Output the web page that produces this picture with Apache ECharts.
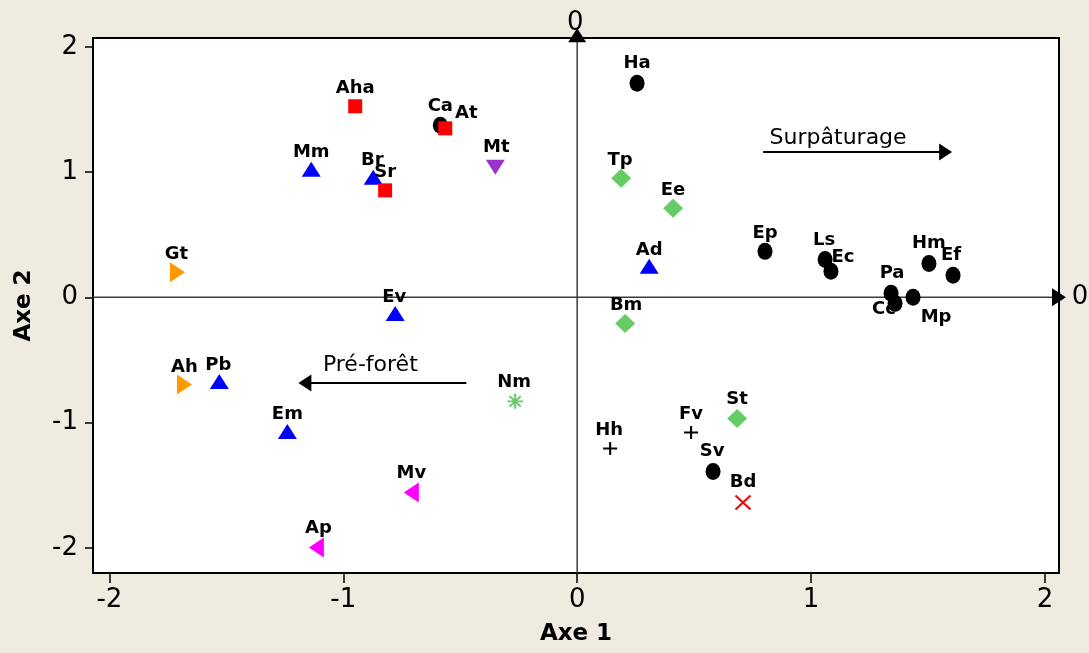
<!DOCTYPE html>
<html><head><meta charset="utf-8">
<script src="https://cdn.jsdelivr.net/npm/echarts@6/dist/echarts.min.js"></script>
<style>html,body{margin:0;padding:0;background:#efebe1;}#c{width:1089px;height:653px;}</style>
</head><body><div id="c"></div>
<script>
// ---------------- data ----------------
const xTicks = [-2, -1, 0, 1, 2];
const yTicks = [-2, -1, 0, 1, 2];
const xTitle = 'Axe 1';
const yTitle = 'Axe 2';

const circleNames = ['Ha', 'Ca', 'Ep', 'Ls', 'Ec', 'Pa', 'Cc', 'Mp', 'Hm', 'Ef', 'Sv'];
const circlePts = [[0.256, 1.709], [-0.585, 1.373], [0.803, 0.367], [1.060, 0.303], [1.085, 0.208],
  [1.342, 0.032], [1.359, -0.048], [1.436, 0.000], [1.504, 0.271], [1.607, 0.176], [0.581, -1.389]];

const triUpNames = ['Mm', 'Br', 'Ad', 'Ev', 'Pb', 'Em'];
const triUpPts = [[-1.137, 1.022], [-0.872, 0.958], [0.308, 0.248], [-0.778, -0.128], [-1.530, -0.671], [-1.239, -1.070]];

const squareNames = ['Aha', 'At', 'Sr'];
const squarePts = [[-0.949, 1.525], [-0.564, 1.349], [-0.821, 0.854]];

const triDownNames = ['Mt'];
const triDownPts = [[-0.350, 1.038]];

const diamondNames = ['Tp', 'Ee', 'Bm', 'St'];
const diamondPts = [[0.188, 0.950], [0.410, 0.711], [0.205, -0.208], [0.684, -0.966]];

const triRightNames = ['Gt', 'Ah'];
const triRightPts = [[-1.709, 0.200], [-1.679, -0.695]];

const triLeftNames = ['Mv', 'Ap'];
const triLeftPts = [[-0.709, -1.557], [-1.115, -1.996]];

const plusNames = ['Hh', 'Fv'];
const plusPts = [[0.141, -1.206], [0.487, -1.078]];

const starNames = ['Nm'];
const starPts = [[-0.265, -0.830]];

const crossNames = ['Bd'];
const crossPts = [[0.709, -1.637]];

// zero axes (x1, y1, x2, y2) and their end labels
const zeroAxes = [[-2.07, 0, 2.09, 0], [0, -2.2, 0, 2.148]];
const zeroAxisLabels = ['0', '0'];

// trend arrows (from -> to) and their captions
const trendArrows = [[0.795, 1.160, 1.603, 1.160], [-0.474, -0.684, -1.192, -0.684]];
const trendLabels = ['Surpâturage', 'Pré-forêt'];

// ---------------- styling ----------------
const labelOffsets = {
  Aha: [0, -18], Ca: [0, -19], At: [21, -15], Mm: [0, -17], Br: [-1, -17], Sr: [0, -18], Mt: [1, -20],
  Ha: [0, -20], Tp: [-1, -18], Ee: [0, -18], Ep: [0, -18], Ls: [-1, -19], Ec: [12, -14], Pa: [1, -20],
  Cc: [-11, 6], Mp: [23, 20], Hm: [0, -20], Ef: [-2, -20], Ad: [0, -16], Bm: [1, -18], Gt: [-1, -18],
  Ev: [-1, -16], Ah: [0, -17], Pb: [-1, -16], Em: [0, -17], Nm: [-1, -19], Hh: [-1, -18], Fv: [0, -18],
  St: [0, -19], Sv: [-1, -20], Bd: [0, -20], Mv: [0, -19], Ap: [2, -19]
};
const zeroLabelOffsets = [[14, 0], [-2, -5]];
const trendLabelOffsets = [[-19.5, -13.7], [-12, -17.7]];

const FONT = '"DejaVu Sans", Verdana, sans-serif';

function pointSeries(names, pts, symbol, size, color, rotate, stroke) {
  return {
    type: 'scatter',
    symbol: symbol,
    symbolSize: size,
    symbolRotate: rotate || 0,
    itemStyle: stroke ? { color: color, borderColor: color, borderWidth: 2, opacity: 1 } : { color: color, opacity: 1 },
    label: {
      show: true, position: 'inside', formatter: '{b}',
      fontFamily: FONT, fontWeight: 'bold', fontSize: 18, color: '#000',
      textBorderWidth: 0, textBorderColor: 'transparent', textShadowBlur: 0
    },
    emphasis: { disabled: true },
    data: names.map((n, i) => ({ name: n, value: pts[i], label: { offset: labelOffsets[n] || [0, -18] } })),
    z: 3
  };
}

function arrowRenderer(cfg) {
  return function (params, api) {
    const i = params.dataIndex;
    const p1 = api.coord([api.value(0), api.value(1)]);
    const p2 = api.coord([api.value(2), api.value(3)]);
    const dx = p2[0] - p1[0], dy = p2[1] - p1[1];
    const len = Math.hypot(dx, dy);
    const ux = dx / len, uy = dy / len;
    const hl = cfg.head[0], hw = cfg.head[1];
    const bx = p2[0] - ux * hl, by = p2[1] - uy * hl;
    const nx = -uy, ny = ux;
    const base = cfg.labelAt === 'tip' ? p2 : [(p1[0] + p2[0]) / 2, (p1[1] + p2[1]) / 2];
    const off = cfg.offsets[i];
    return {
      type: 'group',
      children: [
        { type: 'line', shape: { x1: p1[0], y1: p1[1], x2: bx + ux, y2: by + uy },
          style: { stroke: cfg.lineColor, lineWidth: cfg.lineWidth } },
        { type: 'polygon', shape: { points: [[p2[0], p2[1]], [bx + nx * hw / 2, by + ny * hw / 2], [bx - nx * hw / 2, by - ny * hw / 2]] },
          style: { fill: cfg.headColor } },
        { type: 'text', style: { text: cfg.labels[i], x: base[0] + off[0], y: base[1] + off[1],
          fill: '#000', font: cfg.font, align: 'center', verticalAlign: 'middle' } }
      ]
    };
  };
}

const PLUS = 'path://M0,6L12,6M6,0L6,12';
const STAR = 'path://M0,6L12,6M6,0L6,12M1.8,1.8L10.2,10.2M1.8,10.2L10.2,1.8';
const CROSS = 'path://M0,0L12,12M0,12L12,0';

const chart = echarts.init(document.getElementById('c'), null, { renderer: 'canvas' });
chart.setOption({
  animation: false,
  backgroundColor: '#efebe1',
  grid: { left: 93, right: 30, top: 38, bottom: 80, show: true, backgroundColor: '#ffffff', borderColor: '#000', borderWidth: 2 },
  xAxis: {
    type: 'value', min: -2.07, max: 2.06,
    name: xTitle, nameLocation: 'middle', nameGap: 50,
    nameTextStyle: { fontFamily: FONT, fontWeight: 'bold', fontSize: 23, color: '#000' },
    axisLine: { show: false, onZero: false },
    axisTick: { show: true, inside: false, length: 10, customValues: xTicks, lineStyle: { color: '#000', width: 1.5 } },
    axisLabel: { show: true, customValues: xTicks, margin: 14, fontFamily: FONT, fontSize: 26, color: '#000' },
    splitLine: { show: false }
  },
  yAxis: {
    type: 'value', min: -2.2, max: 2.07,
    name: yTitle, nameLocation: 'middle', nameGap: 57,
    nameTextStyle: { fontFamily: FONT, fontWeight: 'bold', fontSize: 23, color: '#000' },
    axisLine: { show: false, onZero: false },
    axisTick: { show: true, inside: false, length: 8, customValues: yTicks, lineStyle: { color: '#000', width: 1.5 } },
    axisLabel: { show: true, customValues: yTicks, margin: 15, fontFamily: FONT, fontSize: 26, color: '#000' },
    splitLine: { show: false }
  },
  series: [
    {
      type: 'custom', z: 1, silent: true,
      renderItem: arrowRenderer({ head: [14, 18], lineColor: '#3c3c3c', lineWidth: 1.5, headColor: '#000',
        labels: zeroAxisLabels, offsets: zeroLabelOffsets, labelAt: 'tip', font: '26px ' + FONT }),
      data: zeroAxes
    },
    pointSeries(circleNames, circlePts, 'circle', [15, 17], '#000'),
    pointSeries(triUpNames, triUpPts, 'triangle', [19, 15], '#0000ff'),
    pointSeries(squareNames, squarePts, 'rect', [14, 14], '#ff0000'),
    pointSeries(triDownNames, triDownPts, 'triangle', [19, 15], '#9933cc', 180),
    pointSeries(diamondNames, diamondPts, 'diamond', [20, 19], '#66cc66'),
    pointSeries(triRightNames, triRightPts, 'triangle', [20, 15], '#ff9900', -90),
    pointSeries(triLeftNames, triLeftPts, 'triangle', [20, 15], '#ff00ff', 90),
    pointSeries(plusNames, plusPts, PLUS, [14, 13], '#000', 0, true),
    pointSeries(starNames, starPts, STAR, [16, 15], '#66cc66', 0, true),
    pointSeries(crossNames, crossPts, CROSS, [15, 14], '#ff0000', 0, true),
    {
      type: 'custom', z: 4, silent: true,
      renderItem: arrowRenderer({ head: [13, 17], lineColor: '#000', lineWidth: 2, headColor: '#000',
        labels: trendLabels, offsets: trendLabelOffsets, labelAt: 'mid', font: '22px ' + FONT }),
      data: trendArrows
    }
  ]
});
</script></body></html>
